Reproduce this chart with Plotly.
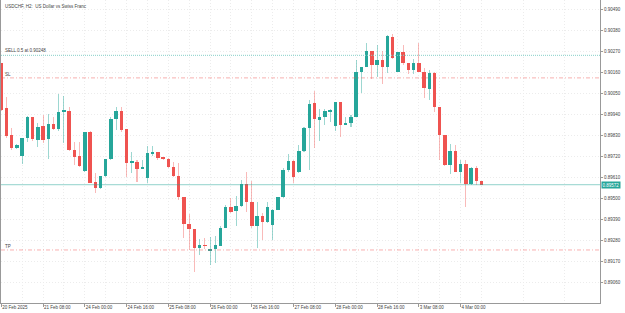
import plotly.graph_objects as go

# ---- data (USDCHF, H2) ----
opens = [0.90207, 0.89971, 0.89832, 0.89762, 0.89722, 0.89818, 0.89924, 0.89806, 0.89879, 0.89809,
         0.89889, 0.89862, 0.89956, 0.89958, 0.89754, 0.89722, 0.89643, 0.89850, 0.89585, 0.89553,
         0.89618, 0.89705, 0.89914, 0.89958, 0.89862, 0.89687, 0.89689, 0.89656, 0.89607, 0.89733,
         0.89741, 0.89714, 0.89705, 0.89667, 0.89620, 0.89507, 0.89366, 0.89339, 0.89243, 0.89254,
         0.89224, 0.89235, 0.89252, 0.89348, 0.89458, 0.89435, 0.89461, 0.89574, 0.89480, 0.89357,
         0.89409, 0.89378, 0.89360, 0.89440, 0.89510, 0.89649, 0.89698, 0.89636, 0.89750, 0.89867,
         0.89998, 0.89914, 0.89924, 0.89956, 0.89879, 0.90006, 0.89886, 0.89893, 0.89928, 0.90163,
         0.90186, 0.90268, 0.90198, 0.90221, 0.90189, 0.90346, 0.90163, 0.90266, 0.90207, 0.90172,
         0.90207, 0.90163, 0.90072, 0.90154, 0.89980, 0.89832, 0.89675, 0.89750, 0.89641, 0.89681,
         0.89576, 0.89660, 0.89593]
highs = [0.90210, 0.90032, 0.89867, 0.89785, 0.89818, 0.89931, 0.89928, 0.89897, 0.89937, 0.89942,
         0.89928, 0.90045, 0.90036, 0.89977, 0.89797, 0.89797, 0.89850, 0.89852, 0.89632, 0.89620,
         0.89705, 0.89928, 0.89977, 0.89977, 0.89862, 0.89745, 0.89702, 0.89702, 0.89775, 0.89775,
         0.89745, 0.89719, 0.89710, 0.89693, 0.89684, 0.89507, 0.89418, 0.89339, 0.89287, 0.89292,
         0.89301, 0.89304, 0.89354, 0.89466, 0.89505, 0.89513, 0.89597, 0.89641, 0.89592, 0.89484,
         0.89423, 0.89484, 0.89444, 0.89510, 0.89658, 0.89733, 0.89702, 0.89780, 0.89872, 0.90015,
         0.90059, 0.89966, 0.89966, 0.89966, 0.90006, 0.90006, 0.89928, 0.89937, 0.90224, 0.90186,
         0.90311, 0.90268, 0.90302, 0.90268, 0.90355, 0.90358, 0.90266, 0.90302, 0.90207, 0.90227,
         0.90311, 0.90180, 0.90172, 0.90163, 0.89980, 0.89832, 0.89785, 0.89780, 0.89702, 0.89702,
         0.89667, 0.89672, 0.89593]
lows = [0.89958, 0.89815, 0.89754, 0.89757, 0.89681, 0.89797, 0.89802, 0.89771, 0.89789, 0.89705,
        0.89858, 0.89855, 0.89789, 0.89750, 0.89675, 0.89667, 0.89641, 0.89580, 0.89531, 0.89551,
        0.89614, 0.89702, 0.89858, 0.89850, 0.89614, 0.89632, 0.89586, 0.89655, 0.89583, 0.89722,
        0.89702, 0.89702, 0.89658, 0.89614, 0.89492, 0.89292, 0.89231, 0.89118, 0.89205, 0.89235,
        0.89153, 0.89162, 0.89252, 0.89345, 0.89426, 0.89354, 0.89458, 0.89432, 0.89345, 0.89240,
        0.89284, 0.89374, 0.89284, 0.89440, 0.89501, 0.89641, 0.89580, 0.89632, 0.89745, 0.89649,
        0.89762, 0.89802, 0.89884, 0.89902, 0.89855, 0.89823, 0.89883, 0.89876, 0.89924, 0.90050,
        0.90186, 0.90123, 0.90133, 0.90097, 0.90158, 0.90229, 0.90163, 0.90198, 0.90151, 0.90149,
        0.90160, 0.90024, 0.90015, 0.89954, 0.89702, 0.89670, 0.89628, 0.89637, 0.89580, 0.89458,
        0.89571, 0.89571, 0.89572]
closes = [0.89963, 0.89827, 0.89762, 0.89780, 0.89818, 0.89924, 0.89811, 0.89876, 0.89806, 0.89889,
          0.89865, 0.89954, 0.89958, 0.89754, 0.89719, 0.89672, 0.89850, 0.89583, 0.89553, 0.89618,
          0.89705, 0.89914, 0.89958, 0.89858, 0.89684, 0.89690, 0.89655, 0.89660, 0.89736, 0.89741,
          0.89710, 0.89708, 0.89667, 0.89620, 0.89510, 0.89366, 0.89339, 0.89240, 0.89256, 0.89252,
          0.89238, 0.89256, 0.89348, 0.89458, 0.89432, 0.89461, 0.89574, 0.89480, 0.89354, 0.89409,
          0.89378, 0.89458, 0.89440, 0.89507, 0.89649, 0.89698, 0.89614, 0.89750, 0.89867, 0.89994,
          0.89914, 0.89924, 0.89959, 0.89963, 0.90006, 0.89884, 0.89895, 0.89928, 0.90163, 0.90186,
          0.90268, 0.90198, 0.90221, 0.90189, 0.90349, 0.90234, 0.90266, 0.90207, 0.90172, 0.90207,
          0.90163, 0.90076, 0.90154, 0.89980, 0.89832, 0.89675, 0.89750, 0.89641, 0.89681, 0.89576,
          0.89660, 0.89593, 0.89572]

x_tick_pos = [0, 8, 16, 24, 32, 40, 48, 56, 64, 72, 80, 88]
x_tick_labels = ["20 Feb 2025", "21 Feb 08:00", "24 Feb 00:00", "24 Feb 16:00", "25 Feb 08:00",
                 "26 Feb 00:00", "26 Feb 16:00", "27 Feb 08:00", "28 Feb 00:00", "28 Feb 16:00",
                 "3 Mar 08:00", "4 Mar 00:00"]
y_ticks = [0.90490, 0.90380, 0.90270, 0.90160, 0.90050, 0.89940, 0.89830, 0.89720,
           0.89610, 0.89500, 0.89390, 0.89280, 0.89170, 0.89060]

sell_price = 0.90248
sl_price = 0.90130
tp_price = 0.89231
last_price = 0.89572

title_text = "USDCHF, H2:&nbsp; US Dollar vs Swiss Franc"

# ---- styling ----
UP = "#26a69a"
DN = "#ef5350"
UP_W = "rgba(38,166,154,0.45)"
DN_W = "rgba(239,83,80,0.40)"
FONT = "Liberation Sans"
TXT = "#444444"
GRID = "#ececec"

idx = list(range(len(opens)))
is_up = [c >= o for o, c in zip(opens, closes)]
min_h = 0.00005
body_base = [min(o, c) for o, c in zip(opens, closes)]
body_h = [max(abs(c - o), min_h) for o, c in zip(opens, closes)]
wick_base = lows
wick_h = [h - l for h, l in zip(highs, lows)]

fig = go.Figure()
fig.add_trace(go.Bar(x=idx, y=wick_h, base=wick_base, width=0.2,
                     marker=dict(color=[UP_W if u else DN_W for u in is_up], line=dict(width=0)),
                     hoverinfo="skip"))
fig.add_trace(go.Bar(x=idx, y=body_h, base=body_base, width=0.66,
                     marker=dict(color=[UP if u else DN for u in is_up], line=dict(width=0)),
                     hoverinfo="skip"))

shapes = [
    dict(type="line", xref="paper", x0=0, x1=1, yref="y", y0=sell_price, y1=sell_price,
         line=dict(color="#86d0c8", width=1, dash="1px,1px")),
    dict(type="line", xref="paper", x0=0, x1=1, yref="y", y0=sl_price, y1=sl_price,
         line=dict(color="rgba(239,83,80,0.45)", width=1, dash="4px,2px,1px,2px")),
    dict(type="line", xref="paper", x0=0, x1=1, yref="y", y0=tp_price, y1=tp_price,
         line=dict(color="rgba(239,83,80,0.45)", width=1, dash="4px,2px,1px,2px")),
    dict(type="line", xref="paper", x0=0, x1=1, yref="y", y0=last_price, y1=last_price,
         line=dict(color="rgba(38,166,154,0.5)", width=1)),
]

small = dict(family=FONT, size=4.5, color=TXT)
annotations = [
    dict(text=title_text, xref="paper", yref="paper", x=0, y=1, xanchor="left", yanchor="top",
         xshift=2, yshift=-2, showarrow=False, font=small),
    dict(text="SELL 0.5 at " + f"{sell_price:.5f}", xref="paper", yref="y", x=0, y=sell_price,
         xanchor="left", yanchor="bottom", xshift=2, yshift=0, showarrow=False, font=small),
    dict(text="SL", xref="paper", yref="y", x=0, y=sl_price, xanchor="left", yanchor="bottom",
         xshift=2, yshift=-1, showarrow=False, font=small),
    dict(text="TP", xref="paper", yref="y", x=0, y=tp_price, xanchor="left", yanchor="bottom",
         xshift=2, yshift=-1, showarrow=False, font=small),
    dict(text=f"{last_price:.5f}", xref="paper", yref="y", x=1, y=last_price, xanchor="left",
         yanchor="middle", xshift=1, showarrow=False, bgcolor=UP, borderpad=0.5,
         font=dict(family=FONT, size=4.5, color="white")),
]

fig.update_layout(
    width=625, height=313,
    margin=dict(l=1, r=25, t=0, b=10, autoexpand=False),
    paper_bgcolor="white", plot_bgcolor="white",
    showlegend=False, barmode="overlay", bargap=0,
    shapes=shapes, annotations=annotations,
    font=dict(family=FONT, size=4.5, color=TXT),
)
fig.update_xaxes(
    range=[-0.057, 114.71], tickmode="array", tickvals=x_tick_pos, ticktext=x_tick_labels,
    ticks="outside", ticklen=3, tickcolor="#999999", ticklabelposition="outside right",
    tickfont=dict(family=FONT, size=4.5, color=TXT),
    showgrid=True, gridcolor=GRID, griddash="1px,2px", gridwidth=1,
    minor=dict(tickvals=list(range(4, 115, 8)), showgrid=True, gridcolor=GRID,
               griddash="1px,2px", ticks=""),
    showline=True, linecolor="#999999", linewidth=1, zeroline=False, fixedrange=True,
    automargin=False,
)
fig.update_yaxes(
    side="right", range=[0.88954, 0.90537], tickmode="array", tickvals=y_ticks,
    tickformat=".5f", ticks="outside", ticklen=2, tickcolor="#999999",
    tickfont=dict(family=FONT, size=4.5, color=TXT),
    showgrid=True, gridcolor=GRID, griddash="1px,2px", gridwidth=1,
    showline=True, mirror=True, linecolor="#999999", linewidth=1, zeroline=False,
    fixedrange=True, automargin=False,
)

fig.write_html("out.html")
